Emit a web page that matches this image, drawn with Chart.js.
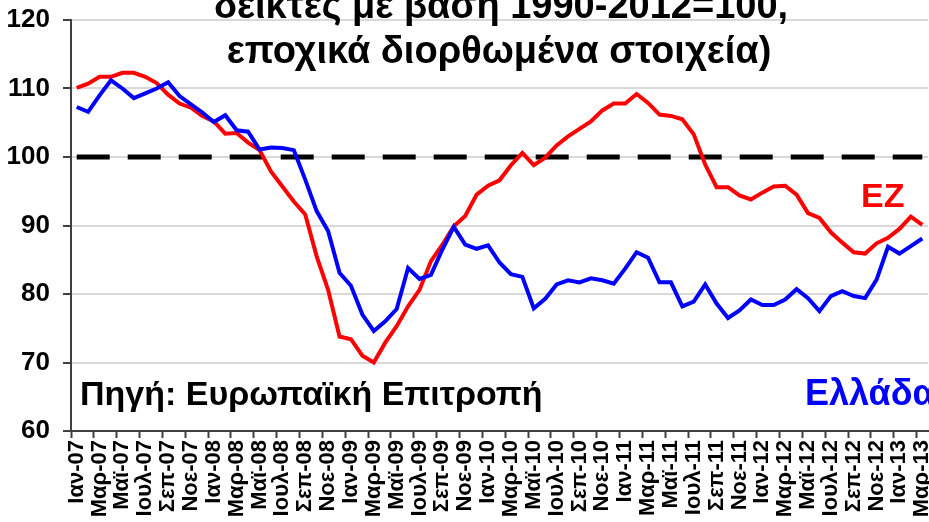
<!DOCTYPE html>
<html lang="el">
<head>
<meta charset="utf-8">
<title>Οικονομικό κλίμα</title>
<script src="https://cdn.jsdelivr.net/npm/chart.js@4.4.1/dist/chart.umd.min.js"></script>
<style>
  html, body { margin: 0; padding: 0; background: #fff; }
  #wrap { width: 929px; height: 522px; overflow: hidden; }
</style>
</head>
<body>
<div id="wrap"><canvas id="climateChart" width="929" height="522"></canvas></div>
<script>
// monthly categories Jan-07 .. Mar-13
const monthNames = ["Ιαν", "Φεβ", "Μαρ", "Απρ", "Μαϊ", "Ιουν", "Ιουλ", "Αυγ", "Σεπ", "Οκτ", "Νοε", "Δεκ"];
const years = ["07", "08", "09", "10", "11", "12", "13"];
const lastYearMonths = 3;

// euro area (EZ)
const ezValues = [
  110.1, 110.7, 111.7, 111.7, 112.3, 112.3, 111.7, 110.8, 109.1, 107.8, 107.2, 106.0,
  105.2, 103.4, 103.5, 102.1, 101.0, 97.9, 95.7, 93.5, 91.6, 85.5, 80.6, 73.8,
  73.4, 71.0, 70.0, 72.9, 75.3, 78.2, 80.6, 84.8, 87.2, 89.9, 91.4, 94.5,
  95.8, 96.6, 98.8, 100.6, 98.8, 99.9, 101.7, 103.0, 104.1, 105.2, 106.8, 107.8,
  107.8, 109.2, 107.9, 106.2, 106.0, 105.5, 103.3, 98.9, 95.6, 95.6, 94.4, 93.8,
  94.8, 95.7, 95.8, 94.5, 91.8, 91.1, 89.0, 87.5, 86.1, 85.9, 87.4, 88.2,
  89.5, 91.3, 90.1
];

// Greece
const greeceValues = [
  107.3, 106.6, 109.0, 111.2, 110.0, 108.6, 109.3, 110.0, 110.9, 108.9, 107.7, 106.5,
  105.1, 106.1, 103.9, 103.7, 101.1, 101.4, 101.3, 101.0, 96.7, 92.1, 89.2, 83.1,
  81.2, 77.0, 74.6, 76.0, 77.8, 83.8, 82.2, 82.8, 86.5, 89.8, 87.2, 86.6,
  87.1, 84.6, 82.9, 82.5, 77.9, 79.3, 81.4, 82.0, 81.7, 82.3, 82.0, 81.5,
  83.7, 86.1, 85.3, 81.7, 81.7, 78.2, 78.9, 81.4, 78.6, 76.5, 77.6, 79.2,
  78.4, 78.4, 79.2, 80.7, 79.4, 77.5, 79.7, 80.4, 79.7, 79.4, 82.1, 86.9,
  85.9, 87.0, 88.1
];

const yMin = 60;
const yMax = 120;
const yStep = 10;
const baseLevel = 100;

const titleLines = ["δείκτες με βάση 1990-2012=100,", "εποχικά διορθωμένα στοιχεία)"];
const sourceText = "Πηγή: Ευρωπαϊκή Επιτροπή";
const ezLabel = "EZ";
const greeceLabel = "Ελλάδα";

const labels = [];
years.forEach((yy, yi) => {
  const count = yi === years.length - 1 ? lastYearMonths : 12;
  for (let m = 0; m < count; m++) labels.push(`${monthNames[m]}-${yy}`);
});

const FONT = "Arial, 'Liberation Sans', sans-serif";

// dashed reference line + free text drawn on the canvas
const overlayPlugin = {
  id: "overlay",
  beforeDatasetsDraw(chart) {
    const { ctx, scales: { x, y } } = chart;
    const py = y.getPixelForValue(baseLevel);
    ctx.save();
    ctx.strokeStyle = "#000";
    ctx.lineWidth = 5;
    ctx.setLineDash([33, 18]);
    ctx.beginPath();
    ctx.moveTo(x.getPixelForValue(0), py);
    ctx.lineTo(x.getPixelForValue(labels.length - 1), py);
    ctx.stroke();
    ctx.restore();
  },
  afterDraw(chart) {
    const ctx = chart.ctx;
    ctx.save();
    ctx.textBaseline = "alphabetic";

    ctx.font = `bold 38px ${FONT}`;
    ctx.fillStyle = "#000";
    ctx.textAlign = "center";
    ctx.fillText(titleLines[0], 501, 18);
    ctx.fillText(titleLines[1], 499, 63);

    ctx.textAlign = "left";
    ctx.font = `bold 34px ${FONT}`;
    ctx.fillText(sourceText, 80, 405);

    ctx.font = `bold 36px ${FONT}`;
    ctx.fillStyle = "#0000ff";
    ctx.fillText(greeceLabel, 805, 405);

    ctx.font = `bold 34px ${FONT}`;
    ctx.fillStyle = "#ff0000";
    ctx.fillText(ezLabel, 861, 207);
    ctx.restore();
  }
};

document.addEventListener("DOMContentLoaded", () => {
  const ctx = document.getElementById("climateChart").getContext("2d");

  new Chart(ctx, {
    type: "line",
    data: {
      labels: labels,
      datasets: [
        {
          label: greeceLabel,
          data: greeceValues,
          borderColor: "#0000ff",
          borderWidth: 4,
          pointRadius: 0,
          tension: 0,
          fill: false
        },
        {
          label: ezLabel,
          data: ezValues,
          borderColor: "#ff0000",
          borderWidth: 4,
          pointRadius: 0,
          tension: 0,
          fill: false
        }
      ]
    },
    options: {
      responsive: false,
      animation: false,
      layout: { padding: { top: 20, right: 1, left: 0, bottom: 0 } },
      plugins: {
        legend: { display: false },
        title: { display: false },
        tooltip: { enabled: false }
      },
      scales: {
        x: {
          type: "category",
          offset: true,
          grid: {
            offset: true,
            drawOnChartArea: false,
            tickLength: 7,
            tickWidth: 2,
            tickColor: c => (c.index % 2 === 0 ? "#404040" : "rgba(0,0,0,0)")
          },
          border: { color: "#404040", width: 2 },
          ticks: {
            autoSkip: false,
            minRotation: 90,
            maxRotation: 90,
            padding: 2,
            color: "#000",
            font: { family: FONT, size: 22, weight: "bold" },
            callback: (value, index) => (index % 2 === 0 ? labels[index] : "")
          },
          afterFit: scale => {
            scale.height = 91;
            scale.paddingLeft = 0;
            scale.paddingRight = 0;
          }
        },
        y: {
          min: yMin,
          max: yMax,
          ticks: {
            stepSize: yStep,
            padding: 13,
            color: "#000",
            font: { family: FONT, size: 26, weight: "bold" }
          },
          grid: {
            color: "#d9d9d9",
            lineWidth: 2,
            tickLength: 8,
            tickWidth: 2,
            tickColor: "#404040"
          },
          border: { color: "#404040", width: 2 },
          afterFit: scale => {
            scale.width = 71;
            scale.paddingTop = 0;
            scale.paddingBottom = 0;
          }
        }
      }
    },
    plugins: [overlayPlugin]
  });
});
</script>
</body>
</html>
